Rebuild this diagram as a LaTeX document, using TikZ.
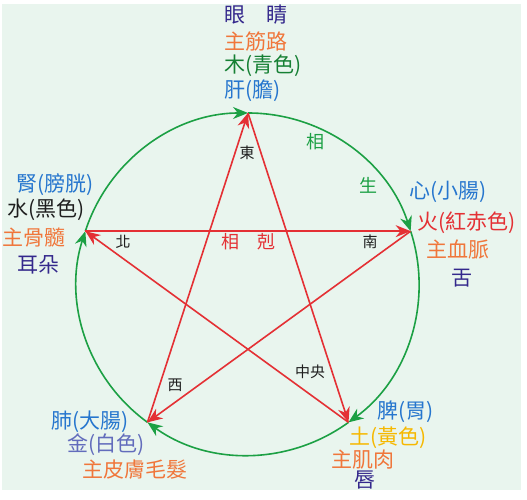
\documentclass[tikz,border=0pt]{standalone}
\usepackage{fontspec}
\setmainfont{Noto Sans CJK TC}
\usepackage{xcolor}
\usepackage{tikz}
\usetikzlibrary{arrows.meta}

\definecolor{bgmint}{RGB}{233,245,238}
\definecolor{kered}{RGB}{228,48,52}
\definecolor{shgreen}{RGB}{28,160,68}
\definecolor{navy}{RGB}{52,40,140}
\definecolor{orng}{RGB}{240,118,58}
\definecolor{leaf}{RGB}{22,128,52}
\definecolor{sky}{RGB}{38,118,206}
\definecolor{slate}{RGB}{98,108,188}
\definecolor{gold}{RGB}{246,184,0}
\definecolor{ink}{RGB}{30,30,30}

\tikzset{
  ke/.style={draw=kered, line width=1.6pt, -{Stealth[length=15pt,width=12pt]}},
  sheng/.style={draw=shgreen, line width=1.6pt, -{Stealth[length=15pt,width=12pt]}},
  lbl/.style={anchor=west, inner sep=0pt, font=\fontsize{21}{21}\selectfont},
  dir/.style={inner sep=0pt, text=ink, font=\fontsize{15}{15}\selectfont},
  big/.style={inner sep=0pt, font=\fontsize{18}{18}\selectfont},
}

\begin{document}
\begin{tikzpicture}[x=1pt,y=1pt]
\useasboundingbox (0,0) rectangle (527,500);
\fill[bgmint] (2,10) rectangle (521,496);

\begin{scope}[shift={(248,216)}]
\coordinate (mu) at (90:171);
\coordinate (huo) at (18:171);
\coordinate (tu) at (-54:171);
\coordinate (jin) at (-126:171);
\coordinate (shui) at (162:171);
\end{scope}

% xiang sheng
\foreach \n/\s in {mu/90, huo/18, tu/-54, jin/-126, shui/162}
  \draw[sheng] (\n) arc[start angle=\s, delta angle=-72, radius=171];

% xiang ke
\draw[ke] (shui) -- (huo);
\draw[ke] (huo) -- (jin);
\draw[ke] (jin) -- (mu);
\draw[ke] (mu) -- (tu);
\draw[ke] (tu) -- (shui);

\node[dir] (dong) at (247,347) {東};
\node[dir] (bei) at (123,258) {北};
\node[dir] (nan) at (370,258) {南};
\node[dir] (xi) at (175,115) {西};
\node[dir] (zhong) at (310,128) {中央};
\node[big, text=kered] (ke) at (248,258) {相　剋};
\node[big, text=shgreen] (xiang) at (315,358) {相};
\node[big, text=shgreen] (sheng) at (368,315) {生};

\node[lbl, text=navy] (mu1) at (224,485) {眼　睛};
\node[lbl, text=orng] (mu2) at (224,458) {主筋路};
\node[lbl, text=leaf] (mu3) at (224,434) {木(青色)};
\node[lbl, text=sky] (mu4) at (224,409) {肝(膽)};

\node[lbl, text=sky] (shui1) at (16,315) {腎(膀胱)};
\node[lbl, text=ink] (shui2) at (7,290) {水(黑色)};
\node[lbl, text=orng] (shui3) at (2,262) {主骨髓};
\node[lbl, text=navy] (shui4) at (17,235) {耳朵};

\node[lbl, text=sky] (huo1) at (409,308) {心(小腸)};
\node[lbl, text=kered] (huo2) at (417,277) {火(紅赤色)};
\node[lbl, text=orng] (huo3) at (426,250) {主血脈};
\node[lbl, text=navy] (huo4) at (451,222) {舌};

\node[lbl, text=sky] (jin1) at (51,78) {肺(大腸)};
\node[lbl, text=slate] (jin2) at (67,55) {金(白色)};
\node[lbl, text=orng] (jin3) at (82,30) {主皮膚毛髮};

\node[lbl, text=sky] (tu1) at (377,88) {脾(胃)};
\node[lbl, text=gold] (tu2) at (349,62) {土(黃色)};
\node[lbl, text=orng] (tu3) at (331,40) {主肌肉};
\node[lbl, text=navy] (tu4) at (354,20) {唇};
\end{tikzpicture}
\end{document}
